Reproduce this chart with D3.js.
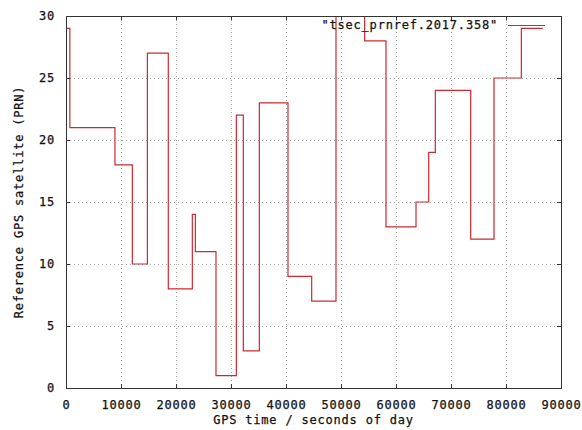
<!DOCTYPE html>
<html>
<head>
<meta charset="utf-8">
<script src="https://cdn.jsdelivr.net/npm/d3@7"></script>
<style>
  html, body { margin: 0; padding: 0; background: #ffffff; }
  svg { display: block; }
</style>
</head>
<body>
<div id="chart"></div>
<script>
// ---- data ----
const times = [0, 700, 8900, 12060, 14800, 18600, 22970, 23520, 27270, 30970, 32240, 35150,
               40360, 44670, 49090, 54300, 58180, 63640, 65950, 67150, 73580, 77820, 82790, 86670];
const prns  = [29, 21, 18, 10, 27, 8, 14, 11, 1, 22, 3, 23,
               9, 7, 32, 28, 13, 15, 19, 24, 12, 25, 29, 29];
const xTicks = [0, 10000, 20000, 30000, 40000, 50000, 60000, 70000, 80000, 90000];
const yTicks = [0, 5, 10, 15, 20, 25, 30];
const seriesName = '"tsec_prnref.2017.358"';
const xLabel = "GPS time / seconds of day";
const yLabel = "Reference GPS satellite (PRN)";

const W = 582, H = 430;
const margin = {left: 66, top: 16, right: 21, bottom: 42};
const pw = W - margin.left - margin.right;
const ph = H - margin.top - margin.bottom;

const svg = d3.select("#chart").append("svg").attr("width", W).attr("height", H);
const g = svg.append("g").attr("transform", `translate(${margin.left},${margin.top})`);

const x = d3.scaleLinear().domain([0, 90000]).range([0, pw]);
const y = d3.scaleLinear().domain([0, 30]).range([ph, 0]);

const monoFont = "'DejaVu Sans Mono', 'Liberation Mono', monospace";
function textStyle(sel) {
  sel.attr("font-family", monoFont).attr("font-size", 12)
     .attr("letter-spacing", 0.8).attr("fill", "#111")
     .attr("stroke", "#111").attr("stroke-width", 0.25);
}

// grid
g.append("g").selectAll("line").data(xTicks.slice(1, -1)).join("line")
  .attr("x1", d => Math.round(x(d)) + 0.5).attr("x2", d => Math.round(x(d)) + 0.5)
  .attr("y1", 0).attr("y2", ph)
  .attr("stroke", "#a8a8a8").attr("stroke-width", 1).attr("stroke-dasharray", "1,3");
g.append("g").selectAll("line").data(yTicks.slice(1, -1)).join("line")
  .attr("y1", d => Math.round(y(d)) + 0.5).attr("y2", d => Math.round(y(d)) + 0.5)
  .attr("x1", 0).attr("x2", pw)
  .attr("stroke", "#a8a8a8").attr("stroke-width", 1).attr("stroke-dasharray", "1,3");

// clip
svg.append("defs").append("clipPath").attr("id", "plotclip")
  .append("rect").attr("x", 0).attr("y", 0).attr("width", pw).attr("height", ph);

// data line
const data = times.map((t, i) => ({t, v: prns[i]}));
const line = d3.line().x(d => x(d.t)).y(d => y(d.v)).curve(d3.curveStepAfter);
g.append("path").datum(data)
  .attr("clip-path", "url(#plotclip)")
  .attr("d", line)
  .attr("fill", "none").attr("stroke", "#cc2a30").attr("stroke-width", 1.2);

// axes with inward ticks
const tickLen = 4;
const xAxisB = d3.axisBottom(x).tickValues(xTicks).tickSizeInner(-tickLen).tickSizeOuter(0).tickPadding(12).tickFormat(d3.format("d"));
const xAxisT = d3.axisTop(x).tickValues(xTicks).tickSizeInner(-tickLen).tickSizeOuter(0).tickFormat("");
const yAxisL = d3.axisLeft(y).tickValues(yTicks).tickSizeInner(-tickLen).tickSizeOuter(0).tickPadding(11).tickFormat(d3.format("d"));
const yAxisR = d3.axisRight(y).tickValues(yTicks).tickSizeInner(-tickLen).tickSizeOuter(0).tickFormat("");

function styleAxis(sel) {
  sel.select(".domain").remove();
  sel.selectAll(".tick line").attr("stroke", "#333");
  sel.selectAll("text").call(textStyle);
}
g.append("g").attr("transform", `translate(0,${ph})`).call(xAxisB).call(styleAxis);
g.append("g").call(xAxisT).call(styleAxis);
g.append("g").call(yAxisL).call(styleAxis);
g.append("g").attr("transform", `translate(${pw},0)`).call(yAxisR).call(styleAxis);

// border
g.append("rect").attr("x", 0.5).attr("y", 0.5).attr("width", pw).attr("height", ph)
  .attr("fill", "none").attr("stroke", "#333").attr("stroke-width", 1);

// legend
g.append("text").attr("x", 498 - margin.left).attr("y", 25 - margin.top).attr("dy", "0.35em")
  .attr("text-anchor", "end").call(textStyle).text(seriesName);
g.append("line").attr("x1", 508 - margin.left).attr("x2", 545 - margin.left)
  .attr("y1", 25.5 - margin.top).attr("y2", 25.5 - margin.top)
  .attr("stroke", "#cc2a30").attr("stroke-width", 1.2);

// axis titles
svg.append("text").attr("x", margin.left + pw / 2).attr("y", 424)
  .attr("text-anchor", "middle").call(textStyle).text(xLabel);
svg.append("text").attr("transform", `translate(23,${margin.top + ph / 2}) rotate(-90)`)
  .attr("text-anchor", "middle").call(textStyle).text(yLabel);
</script>
</body>
</html>
